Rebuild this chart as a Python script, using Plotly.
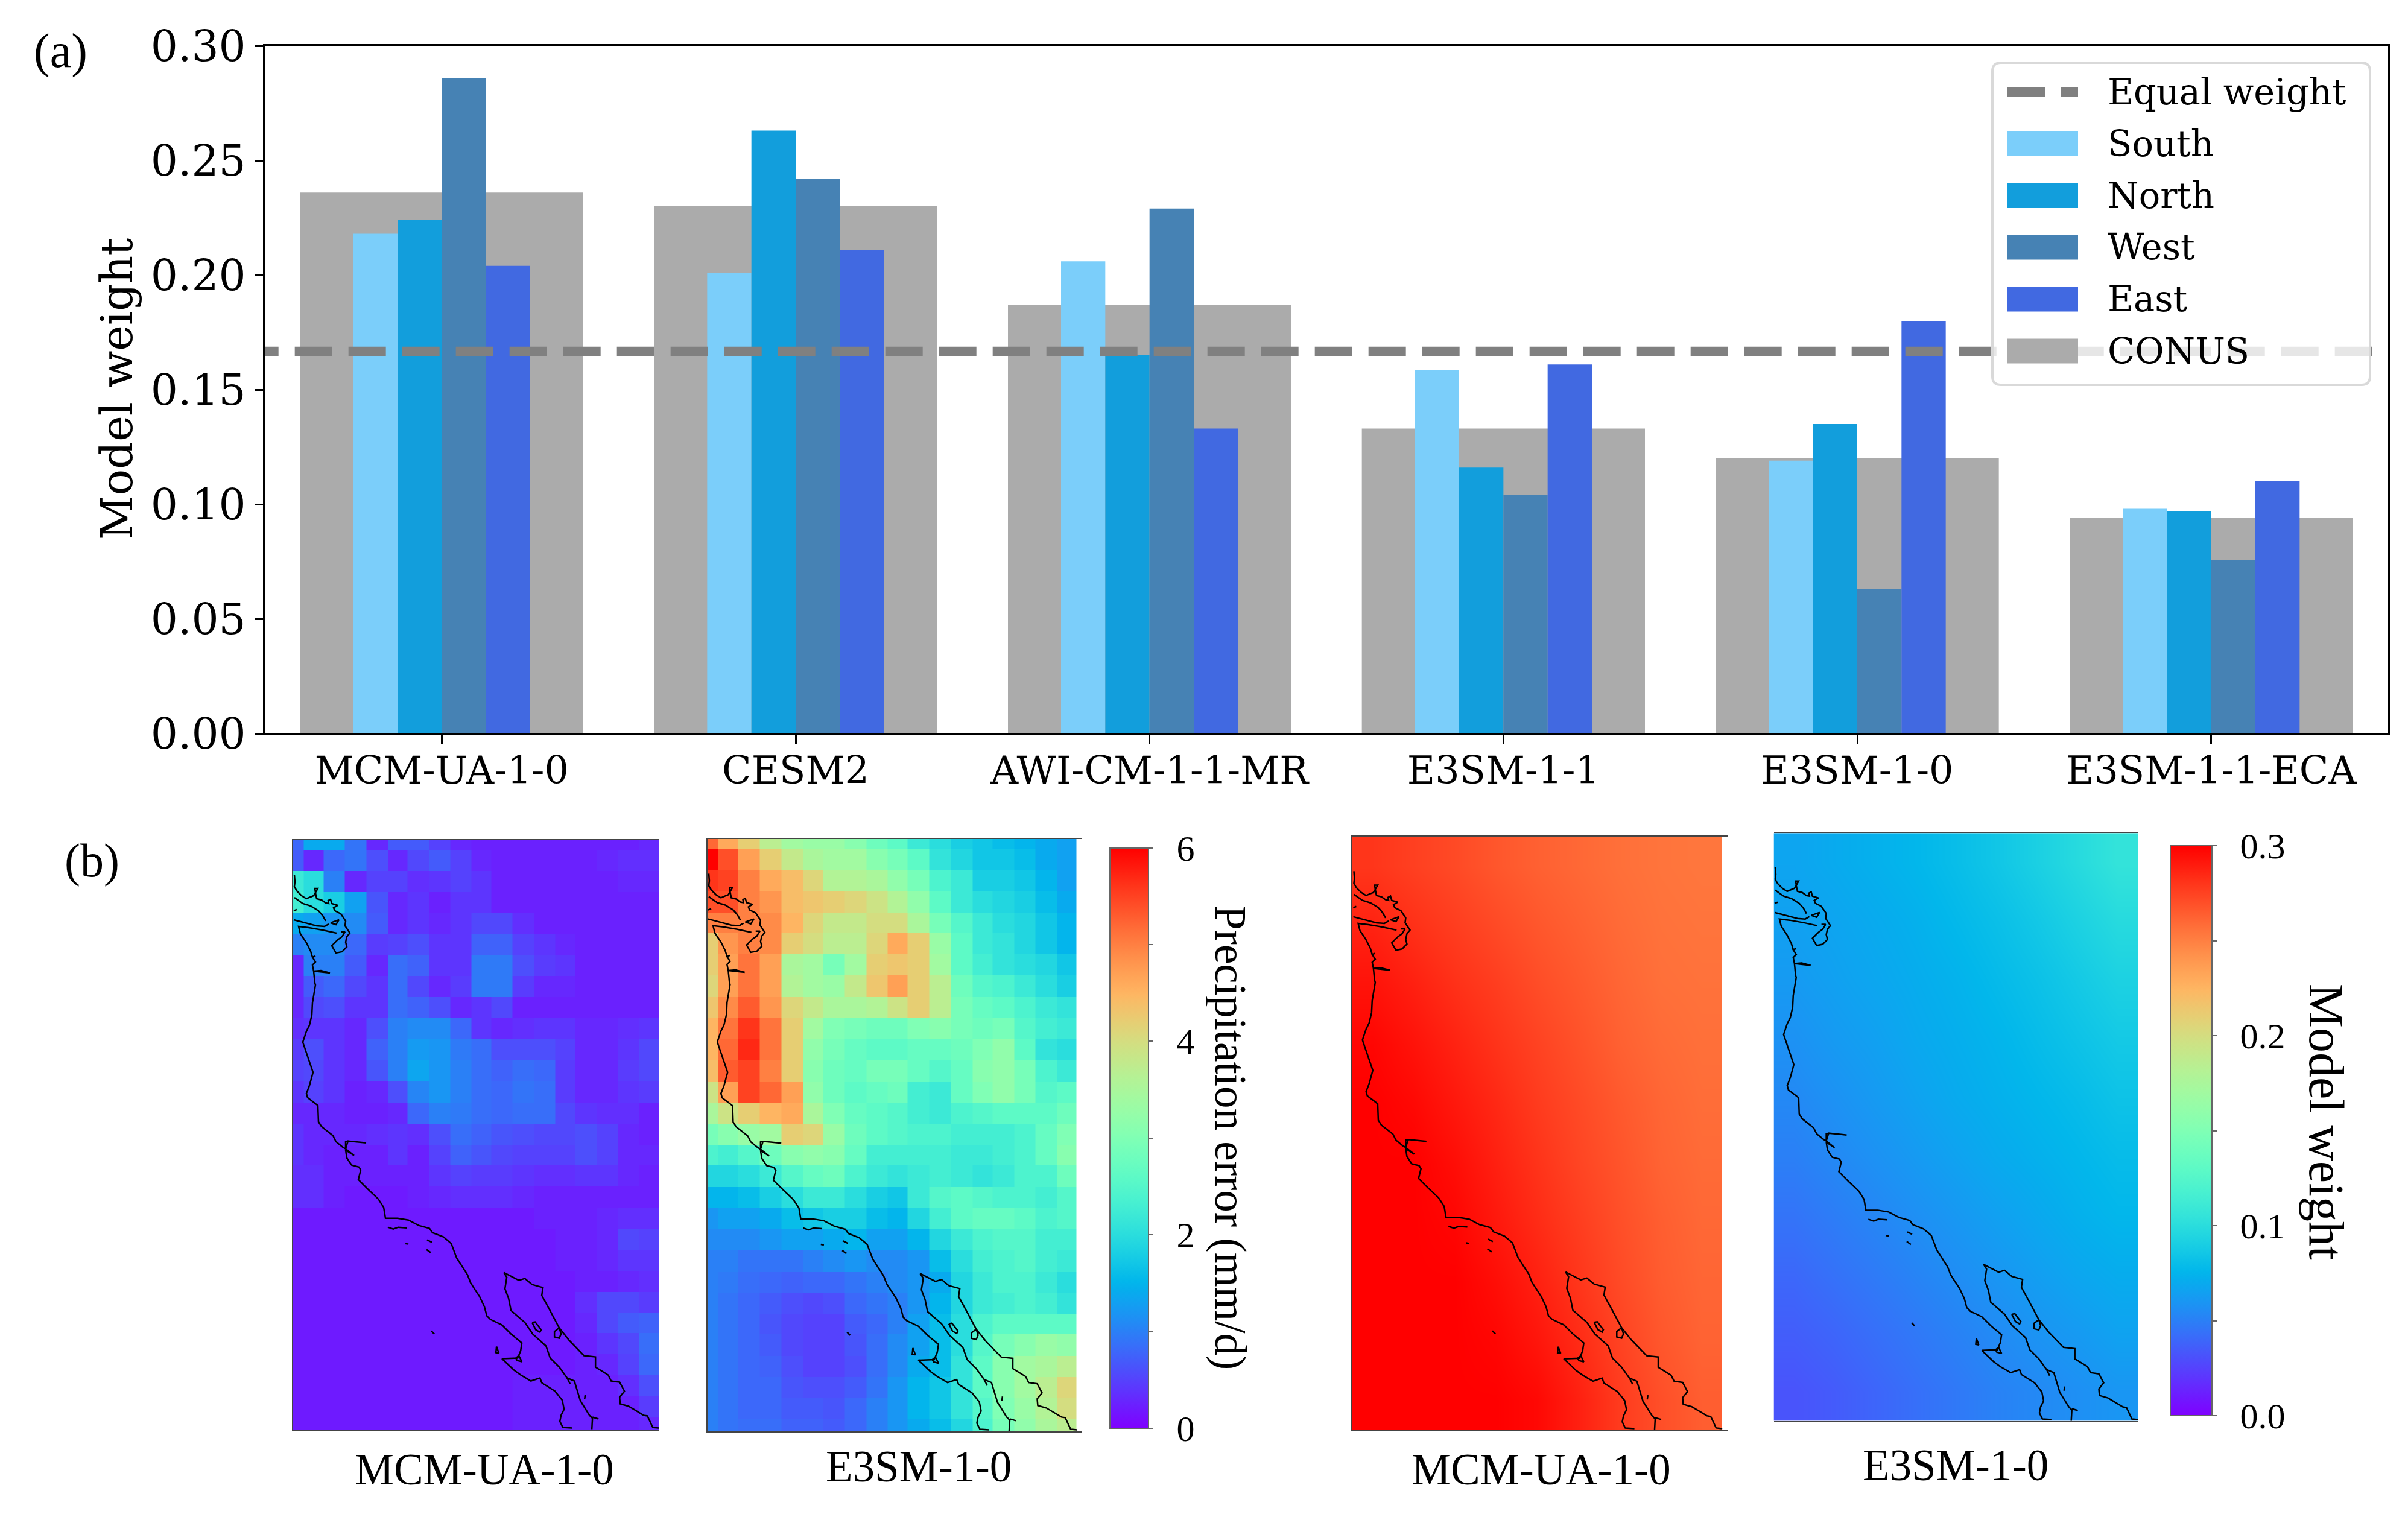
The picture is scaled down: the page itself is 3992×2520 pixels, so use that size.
import numpy as np
import plotly.graph_objects as go

WIDTH = 3992
HEIGHT = 2520

# Panel (a) values
models = ['MCM-UA-1-0', 'CESM2', 'AWI-CM-1-1-MR', 'E3SM-1-1', 'E3SM-1-0', 'E3SM-1-1-ECA']
conus = [0.236, 0.230, 0.187, 0.133, 0.120, 0.094]
south = [0.218, 0.201, 0.206, 0.1585, 0.119, 0.098]
north = [0.224, 0.263, 0.165, 0.116, 0.135, 0.097]
west = [0.286, 0.242, 0.229, 0.104, 0.063, 0.0755]
east = [0.204, 0.211, 0.133, 0.161, 0.180, 0.110]
equal_weight = 1 / 6
y_ticks = [0.00, 0.05, 0.10, 0.15, 0.20, 0.25, 0.30]

region_names = ['South', 'North', 'West', 'East']
region_colors = ['#7BCEFA', '#129EDC', '#4682B4', '#4169E1']
region_offsets = [-0.1875, -0.0625, 0.0625, 0.1875]

# Panel (b) grid edges, in the map units shared by all four maps
cell_x = [102, 142, 216, 295, 375, 455, 527, 607, 687, 765, 838, 917, 997, 1077, 1150, 1230, 1308, 1388, 1460]
cell_y = [47, 70, 120, 170, 220, 268, 318, 368, 418, 468, 518, 568, 618, 668, 718, 768, 815, 865, 915, 965,
          1015, 1065, 1115, 1165, 1212, 1262, 1312, 1362, 1412, 1440]

# Precipitation error, MCM-UA-1-0 (mm/d)
error_mcm = [
    [.8, 1.4, 1.4, .9, .3, .7, .7, .5, .3, .25, .25, .25, .25, .25, .25, .25, .25, .3],
    [.7, .3, .8, .9, .6, .3, .55, .7, .5, .3, .25, .25, .25, .25, .25, .3, .35, .35],
    [2.2, 2.0, 1.0, .3, .5, .5, .35, .4, .5, .4, .25, .25, .25, .25, .25, .25, .3, .3],
    [2.3, 2.0, 1.8, 1.3, .65, .3, .4, .25, .4, .4, .25, .25, .25, .25, .25, .25, .25, .25],
    [1.4, 1.3, 1.2, 1.1, .7, .3, .4, .3, .4, .55, .55, .35, .25, .25, .25, .25, .25, .25],
    [1.0, 1.1, 1.1, .8, .45, .5, .6, .4, .4, .75, .75, .5, .4, .3, .25, .25, .25, .25],
    [.3, 1.0, 1.0, .7, .3, .85, .75, .4, .4, .95, .95, .6, .45, .4, .25, .25, .25, .25],
    [.3, .7, .8, .55, .4, .85, .55, .3, .45, .95, .95, .45, .3, .3, .25, .25, .25, .25],
    [.3, .55, .6, .4, .4, .85, .75, .6, .3, .4, .55, .25, .25, .25, .25, .25, .25, .25],
    [.35, .4, .4, .3, .6, 1.0, 1.1, 1.1, .8, .4, .3, .35, .4, .4, .3, .3, .35, .4],
    [.45, .6, .4, .3, .75, 1.0, 1.25, 1.2, .95, .85, .6, .6, .6, .5, .3, .3, .4, .55],
    [.5, .55, .4, .3, .65, 1.0, 1.35, 1.2, 1.0, .85, .75, .85, .8, .45, .3, .3, .45, .55],
    [.4, .5, .4, .25, .3, .6, 1.05, 1.2, 1.0, .85, .8, .9, .85, .45, .3, .3, .4, .45],
    [.3, .3, .3, .25, .25, .3, .8, 1.0, .95, .85, .8, .85, .85, .55, .4, .35, .35, .25],
    [.4, .3, .3, .3, .35, .4, .35, .6, .85, .75, .65, .6, .55, .55, .6, .5, .3, .25],
    [.4, .3, .25, .25, .25, .4, .25, .5, .75, .65, .55, .5, .5, .5, .6, .5, .3, .3],
    [.35, .35, .25, .25, .25, .25, .25, .4, .5, .45, .45, .4, .35, .35, .4, .4, .3, .25],
    [.35, .35, .25, .2, .2, .2, .25, .3, .35, .35, .35, .3, .25, .25, .25, .25, .25, .25],
    [.2, .2, .2, .2, .2, .2, .2, .2, .2, .2, .2, .2, .25, .25, .25, .3, .35, .35],
    [.2, .2, .2, .2, .2, .2, .2, .2, .2, .2, .2, .2, .2, .25, .25, .3, .55, .5],
    [.2, .2, .2, .2, .2, .2, .2, .2, .2, .2, .2, .2, .2, .25, .25, .3, .4, .4],
    [.2, .2, .2, .2, .2, .2, .2, .2, .2, .2, .2, .2, .2, .2, .25, .25, .3, .35],
    [.2, .2, .2, .2, .2, .2, .2, .2, .2, .2, .2, .2, .2, .2, .35, .55, .55, .45],
    [.2, .2, .2, .2, .2, .2, .2, .2, .2, .2, .2, .2, .2, .2, .3, .55, .7, .75],
    [.2, .2, .2, .2, .2, .2, .2, .2, .2, .2, .2, .2, .2, .2, .25, .4, .55, .85],
    [.2, .2, .2, .2, .2, .2, .2, .2, .2, .2, .2, .2, .2, .2, .25, .3, .5, .8],
    [.2, .2, .2, .2, .2, .2, .2, .2, .2, .2, .2, .25, .25, .25, .25, .25, .35, .6],
    [.2, .2, .2, .2, .2, .2, .2, .2, .2, .2, .2, .25, .25, .25, .25, .25, .25, .45],
    [.2, .2, .2, .2, .2, .2, .2, .2, .2, .2, .2, .25, .25, .25, .25, .25, .25, .3],
]

# Precipitation error, E3SM-1-0 (mm/d)
error_e3sm = [
    [5.2, 4.6, 4.2, 3.7, 3.4, 3.3, 3.3, 3.1, 2.8, 2.6, 2.2, 2.0, 1.8, 1.7, 1.6, 1.5, 1.4, 1.3],
    [6.0, 5.4, 4.7, 4.2, 3.8, 3.5, 3.4, 3.4, 3.1, 2.9, 2.6, 2.1, 1.9, 1.7, 1.7, 1.6, 1.4, 1.3],
    [5.6, 5.5, 5.0, 4.6, 4.4, 4.1, 3.6, 3.6, 3.5, 3.2, 2.9, 2.4, 2.2, 1.8, 1.8, 1.7, 1.5, 1.3],
    [5.4, 5.4, 5.0, 4.8, 4.4, 4.3, 4.2, 4.1, 3.9, 3.6, 3.2, 2.6, 2.2, 2.0, 1.9, 1.8, 1.6, 1.4],
    [5.0, 5.0, 5.0, 4.9, 4.5, 4.1, 3.8, 3.8, 4.0, 4.0, 3.5, 2.9, 2.5, 2.2, 2.0, 1.9, 1.7, 1.5],
    [4.2, 4.8, 5.0, 4.9, 4.2, 4.0, 3.7, 3.7, 4.1, 4.6, 4.2, 3.3, 2.6, 2.2, 2.1, 1.9, 1.7, 1.5],
    [4.2, 4.7, 5.1, 4.7, 3.5, 3.4, 2.9, 3.4, 4.2, 4.3, 4.2, 3.4, 2.6, 2.3, 2.1, 2.0, 1.9, 1.7],
    [4.1, 4.7, 5.1, 4.7, 3.6, 3.4, 3.3, 3.8, 4.3, 4.7, 4.2, 3.7, 2.8, 2.5, 2.4, 2.2, 2.0, 1.8],
    [4.3, 4.9, 5.3, 4.8, 4.1, 3.8, 3.5, 3.5, 3.6, 3.9, 4.2, 3.7, 2.9, 2.7, 2.6, 2.4, 2.2, 2.1],
    [4.5, 5.1, 5.6, 5.1, 4.2, 3.4, 3.0, 2.9, 2.8, 2.8, 3.0, 3.1, 2.9, 2.8, 2.9, 2.5, 2.3, 2.2],
    [4.5, 5.2, 5.7, 5.1, 4.2, 3.2, 2.9, 2.7, 2.6, 2.6, 2.7, 2.7, 2.8, 3.0, 3.2, 2.6, 2.1, 2.0],
    [4.4, 5.3, 5.5, 5.0, 4.2, 3.1, 2.8, 2.7, 2.9, 2.9, 2.7, 2.5, 2.7, 3.1, 3.2, 2.9, 2.4, 2.2],
    [3.9, 4.7, 5.5, 5.2, 4.7, 3.2, 2.8, 2.6, 2.7, 2.8, 2.3, 2.2, 2.7, 3.0, 3.2, 2.9, 2.5, 2.6],
    [3.5, 3.9, 4.2, 4.5, 4.6, 3.5, 3.0, 2.7, 2.6, 2.5, 2.3, 2.2, 2.4, 2.5, 2.6, 2.6, 2.6, 2.8],
    [2.9, 3.1, 3.3, 3.4, 4.2, 4.1, 3.3, 2.8, 2.6, 2.5, 2.4, 2.4, 2.3, 2.3, 2.3, 2.4, 2.7, 3.0],
    [2.4, 2.3, 2.5, 2.8, 3.1, 3.2, 3.1, 2.7, 2.3, 2.3, 2.3, 2.3, 2.2, 2.2, 2.3, 2.4, 2.7, 3.1],
    [1.9, 1.9, 2.0, 2.2, 2.5, 2.7, 2.8, 2.4, 2.2, 2.1, 2.2, 2.3, 2.2, 2.1, 2.2, 2.4, 2.4, 2.8],
    [1.5, 1.5, 1.6, 1.8, 2.0, 2.2, 2.2, 2.0, 1.8, 1.7, 2.2, 2.5, 2.6, 2.5, 2.4, 2.4, 2.3, 2.5],
    [1.2, 1.3, 1.3, 1.4, 1.6, 1.7, 1.8, 1.8, 1.6, 1.5, 1.9, 2.3, 2.6, 2.7, 2.7, 2.6, 2.4, 2.5],
    [1.1, 1.1, 1.1, 1.2, 1.3, 1.3, 1.4, 1.5, 1.3, 1.3, 1.5, 1.9, 2.2, 2.4, 2.5, 2.5, 2.3, 2.3],
    [1.0, 1.0, .9, .9, .9, 1.0, 1.1, 1.2, 1.1, 1.1, 1.2, 1.6, 2.0, 2.3, 2.4, 2.5, 2.3, 2.2],
    [1.0, .95, .85, .8, .75, .8, .8, .9, 1.0, 1.1, 1.2, 1.4, 1.9, 2.2, 2.4, 2.4, 2.2, 2.0],
    [1.0, .9, .8, .7, .6, .55, .6, .8, .9, 1.0, 1.2, 1.5, 1.9, 2.2, 2.3, 2.4, 2.3, 2.1],
    [1.0, .9, .8, .65, .55, .5, .5, .7, .8, 1.0, 1.3, 1.6, 2.0, 2.4, 2.6, 2.6, 2.6, 2.6],
    [1.0, .9, .8, .7, .55, .5, .5, .65, .85, 1.1, 1.3, 1.6, 2.0, 2.5, 2.9, 3.1, 3.3, 3.2],
    [1.0, .9, .8, .75, .6, .5, .5, .6, .85, 1.1, 1.4, 1.6, 2.1, 2.6, 3.1, 3.4, 3.5, 3.7],
    [1.0, .9, .8, .8, .65, .6, .6, .7, .9, 1.2, 1.5, 1.7, 2.1, 2.6, 3.1, 3.4, 3.7, 4.1],
    [1.0, .9, .8, .8, .7, .7, .65, .8, 1.0, 1.2, 1.5, 1.7, 2.1, 2.5, 3.0, 3.3, 3.6, 4.0],
    [1.0, .9, .85, .85, .75, .75, .7, .8, 1.0, 1.2, 1.4, 1.6, 1.9, 2.4, 2.9, 3.2, 3.5, 3.7],
]

# Model weight fields, read on a coarser grid because they are smooth (cell centres)
weight_x = [177, 328, 479, 630, 781, 932, 1083, 1234, 1385]
weight_y = [117, 256, 395, 534, 674, 813, 952, 1092, 1231, 1370]

weight_mcm = [
    [.280, .276, .272, .267, .263, .260, .257, .255, .254],
    [.287, .282, .277, .272, .267, .263, .259, .256, .255],
    [.293, .288, .282, .277, .271, .266, .261, .257, .256],
    [.298, .293, .287, .281, .275, .269, .263, .259, .257],
    [.300, .297, .291, .285, .278, .272, .266, .261, .258],
    [.300, .300, .295, .288, .281, .274, .268, .262, .259],
    [.300, .300, .298, .291, .284, .277, .270, .264, .260],
    [.300, .300, .300, .295, .288, .280, .272, .265, .261],
    [.300, .300, .300, .298, .292, .284, .275, .267, .262],
    [.300, .300, .300, .300, .297, .288, .278, .270, .264],
]

weight_e3sm = [
    [.067, .070, .073, .076, .080, .085, .091, .098, .105],
    [.065, .067, .070, .073, .077, .081, .086, .092, .098],
    [.062, .065, .068, .071, .074, .078, .082, .087, .092],
    [.058, .062, .065, .069, .072, .075, .079, .083, .087],
    [.054, .058, .062, .066, .070, .073, .076, .079, .083],
    [.050, .054, .058, .062, .066, .070, .073, .076, .079],
    [.045, .049, .053, .057, .061, .065, .069, .073, .076],
    [.040, .044, .048, .052, .056, .060, .064, .068, .071],
    [.036, .039, .043, .047, .051, .055, .059, .062, .066],
    [.032, .035, .039, .043, .047, .051, .054, .057, .060],
]

coast_px = [488, 489, 488, 492, 500, 508, 515, 520, 523, 522, 527, 523, 525, 533, 540, 545, 544, 548, 550, 560, 553, 555, 565, 568, 573, 572, 580, 575, 573, 575, 567, 557, 553, 550, 560, 567, 572, 565, None,
            488, 502, 515, 528, 535, 540, None,
            548, 557, 562, 557, 548, None,
            487, 505, 525, 538, 545, None,
            487, 492, None,
            558, 535, 512, 495, 498, 508, 515, 518, 523, 518, 523, 518, 520, 532, 547, 520, 522, 523, 518, 517, 513, 508, 502, 507, 513, 519, 513, 508, 510, 527, 528, 533, 552, 557, 568, 573, 573, 577, 607, 577, 573, 587, 573, 575, 583, 595, 598,
            594, 610, 627, 636, 639, 659, 677, 694, 712, 717, 735, 748, 757, 775, 780, 787, 795, 803, 807, 813, 832, 847, 865, 863, 858, 832, 852, 863, 880, 895, 898, 920, 932, 935, 930, 928, 933, 948, None,
            855, 860, 865, 857, 855, None,
            835, 840, 837, 843, 847, 870, 883, 905, 912, 927, 940, 952, 962, 977, 982, 981, None,
            940, 945, None,
            970, 969, None,
            982, 992, None,
            835, 860, 870, 882, 900, 898, 910, 927, 943, 968, 987, 987, 1008, 1013, 1027, 1035, 1027, 1028, 1042, 1067, 1073, 1082, 1092, None,
            882, 887, 897, 895, 888, 882, None,
            927, 919, 919, 927, 930, 927, None,
            823, 822, 827, 823, None,
            643, 652, 660, 674, None,
            672, 677, None,
            708, 716, None,
            707, 714, None,
            715, 720]
coast_py = [1450, 1462, 1470, 1477, 1485, 1490, 1487, 1485, 1480, 1473, 1473, 1480, 1490, 1492, 1497, 1498, 1493, 1491, 1498, 1501, 1505, 1510, 1515, 1520, 1527, 1535, 1547, 1553, 1562, 1570, 1578, 1580, 1573, 1568, 1558, 1553, 1545, 1545, None,
            1488, 1498, 1502, 1510, 1518, 1527, None,
            1530, 1527, 1525, 1533, 1530, None,
            1525, 1530, 1535, 1536, 1532, None,
            1510, 1508, None,
            1547, 1542, 1538, 1536, 1548, 1563, 1577, 1587, 1585, 1587, 1595, 1600, 1610, 1609, 1613, 1610, 1630, 1633, 1663, 1683, 1700, 1710, 1728, 1743, 1760, 1778, 1800, 1813, 1820, 1833, 1860, 1868, 1883, 1893, 1902, 1905, 1893, 1892, 1895, 1892, 1905, 1916, 1907, 1920, 1932, 1935, 1940,
            1956, 1972, 1988, 2002, 2020, 2020, 2023, 2032, 2037, 2044, 2051, 2062, 2086, 2114, 2127, 2138, 2150, 2167, 2182, 2188, 2197, 2212, 2227, 2240, 2252, 2253, 2272, 2280, 2290, 2285, 2293, 2307, 2322, 2337, 2347, 2357, 2367, 2368, None,
            2252, 2248, 2258, 2256, 2252, None,
            2110, 2118, 2137, 2153, 2173, 2193, 2212, 2232, 2252, 2267, 2285, 2290, 2323, 2347, 2352, 2370, None,
            2285, 2295, None,
            2313, 2320, None,
            2350, 2353, None,
            2110, 2123, 2120, 2130, 2135, 2148, 2170, 2202, 2222, 2248, 2250, 2267, 2280, 2290, 2292, 2307, 2317, 2328, 2332, 2347, 2348, 2367, 2368, None,
            2193, 2192, 2205, 2209, 2205, 2193, None,
            2202, 2208, 2217, 2219, 2212, 2202, None,
            2233, 2243, 2244, 2233, None,
            2035, 2038, 2035, 2036, None,
            2062, 2063, None,
            2056, 2060, None,
            2072, 2077, None,
            2207, 2212]

legend_labels = ['Equal weight'] + region_names + ['CONUS']

# Picture positions to map units
coast_x = [None if v is None else (v - 440) * 2.24 for v in coast_px]
coast_y = [None if v is None else (v - 1360) * 1.425 for v in coast_py]

SERIF = 'Liberation Serif'
DEJAVU = 'DejaVu Serif'


def paper_x(px: float) -> float:
    return px / WIDTH


def paper_y(py: float) -> float:
    return 1 - py / HEIGHT


def rainbow_scale(num_stops: int = 64) -> list:
    '''
    Returns the matplotlib rainbow colormap as a plotly colorscale.
    '''
    stops = []
    for frac in np.linspace(0, 1, num_stops):
        red = abs(2 * frac - 0.5)
        green = np.sin(np.pi * frac)
        blue = np.cos(np.pi * frac / 2)
        stops.append([float(frac), f'rgb({red * 255:.0f},{green * 255:.0f},{blue * 255:.0f})'])
    return stops


def colorbar_dict(left, top, bottom, thickness, tickvals, ticktext) -> dict:
    return {'x': paper_x(left), 'xanchor': 'left', 'xpad': 0,
            'y': paper_y(top), 'yanchor': 'top', 'ypad': 0,
            'thickness': thickness, 'thicknessmode': 'pixels',
            'len': bottom - top, 'lenmode': 'pixels',
            'outlinewidth': 2, 'outlinecolor': '#666666',
            'ticks': 'outside', 'ticklen': 7, 'tickwidth': 2, 'tickcolor': '#666666',
            'tickmode': 'array', 'tickvals': tickvals,
            'ticktext': ['\u00a0\u2009' + label for label in ticktext],
            'tickfont': {'family': SERIF, 'size': 60, 'color': 'black'}}


scale = rainbow_scale()
fig = go.Figure()

# Panel (a): CONUS bars go underneath the regional ones
positions = np.arange(len(models))
fig.add_trace(go.Bar(x = positions, y = conus, width = 0.8, name = 'CONUS',
                     marker = {'color': '#ABABAB', 'line': {'width': 0}}, showlegend = False))
for region_values, name, color, offset in zip([south, north, west, east], region_names, region_colors, region_offsets):
    fig.add_trace(go.Bar(x = positions + offset, y = region_values, width = 0.125, name = name,
                         marker = {'color': color, 'line': {'width': 0}}, showlegend = False))
fig.add_trace(go.Scatter(x = [-0.567, 5.47], y = [equal_weight, equal_weight], mode = 'lines',
                         name = 'Equal weight', showlegend = False,
                         line = {'color': '#808080', 'width': 16, 'dash': '62px,27px'}))

# Panel (b): the four maps
map_boxes = [(485.5, 1092, 1393, 2370, 0),
             (1172.5, 1793, 1391, 2373, 18),
             (2242, 2864, 1387, 2371, 20),
             (2940.5, 3544, 1381, 2356, 0)]
map_fields = [(error_mcm, cell_x, cell_y, 6), (error_e3sm, cell_x, cell_y, 6),
              (weight_mcm, weight_x, weight_y, 0.3), (weight_e3sm, weight_x, weight_y, 0.3)]
map_titles = [('MCM-UA-1-0', 803, 2436, 73), ('E3SM-1-0', 1523, 2431, 73),
              ('MCM-UA-1-0', 2555, 2436, 73), ('E3SM-1-0', 3242, 2429, 73)]
colorbars = [None,
             colorbar_dict(1840, 1405.6, 2368, 64, [0, 1, 2, 3, 4, 5, 6], ['0', '', '2', '', '4', '', '6']),
             None,
             colorbar_dict(3598, 1402, 2347, 69, [0, 0.05, 0.1, 0.15, 0.2, 0.25, 0.3],
                           ['0.0', '', '0.1', '', '0.2', '', '0.3'])]

layout_axes = {}
for idx, (box, field, colorbar) in enumerate(zip(map_boxes, map_fields, colorbars)):
    left, right, top, bottom, spare = box
    z, field_x, field_y, zmax = field
    xname = f'x{idx + 2}'
    yname = f'y{idx + 2}'
    heat = {'z': z, 'x': field_x, 'y': field_y, 'xaxis': xname, 'yaxis': yname,
            'zmin': 0, 'zmax': zmax, 'colorscale': scale, 'showscale': colorbar is not None}
    if colorbar is not None:
        heat['colorbar'] = colorbar
    if zmax < 1:
        heat['zsmooth'] = 'best'
    fig.add_trace(go.Heatmap(**heat))
    fig.add_trace(go.Scatter(x = coast_x, y = coast_y, xaxis = xname, yaxis = yname, mode = 'lines',
                             line = {'color': 'black', 'width': 2.5}, connectgaps = False,
                             hoverinfo = 'skip', showlegend = False))
    layout_axes[f'xaxis{idx + 2}'] = {'domain': [paper_x(left), paper_x(right)], 'anchor': yname,
                                      'range': [102, 1460 + spare], 'showticklabels': False, 'ticks': '',
                                      'showgrid': False, 'zeroline': False,
                                      'showline': True, 'mirror': True, 'linecolor': '#444444', 'linewidth': 2}
    layout_axes[f'yaxis{idx + 2}'] = {'domain': [paper_y(bottom), paper_y(top)], 'anchor': xname,
                                      'range': [1440, 47], 'showticklabels': False, 'ticks': '',
                                      'showgrid': False, 'zeroline': False,
                                      'showline': idx != 3, 'linecolor': '#444444', 'linewidth': 2}

# Free text: panel letters, axis and colorbar titles, map captions
annotations = [
    {'text': '(a)', 'x': paper_x(100), 'y': paper_y(85), 'font': {'family': SERIF, 'size': 80}},
    {'text': '(b)', 'x': paper_x(152), 'y': paper_y(1426), 'font': {'family': SERIF, 'size': 78}},
    {'text': 'Model weight', 'x': paper_x(194), 'y': paper_y(645), 'textangle': -90,
     'font': {'family': DEJAVU, 'size': 72}},
    {'text': 'Precipitation error (mm/d)', 'x': paper_x(2040), 'y': paper_y(1886), 'textangle': 90,
     'font': {'family': SERIF, 'size': 73}},
    {'text': 'Model weight', 'x': paper_x(3857), 'y': paper_y(1860), 'textangle': 90,
     'font': {'family': SERIF, 'size': 82}},
]
for text, cx, cy, size in map_titles:
    annotations.append({'text': text, 'x': paper_x(cx), 'y': paper_y(cy), 'font': {'family': SERIF, 'size': size}})

# Legend box, drawn by hand so the swatches keep their size
legend_rows = [152, 238, 324.5, 410, 496, 582]
swatch_colors = [None] + region_colors + ['#ABABAB']
bx0, bx1, by0, by1 = paper_x(3303), paper_x(3929), paper_y(104), paper_y(638)
rx, ry = 14 / WIDTH, 14 / HEIGHT
shapes = [{'type': 'path', 'xref': 'paper', 'yref': 'paper', 'layer': 'above',
           'path': f'M {bx0 + rx} {by0} L {bx1 - rx} {by0} Q {bx1} {by0} {bx1} {by0 - ry} '
                   f'L {bx1} {by1 + ry} Q {bx1} {by1} {bx1 - rx} {by1} '
                   f'L {bx0 + rx} {by1} Q {bx0} {by1} {bx0} {by1 + ry} '
                   f'L {bx0} {by0 - ry} Q {bx0} {by0} {bx0 + rx} {by0} Z',
           'fillcolor': 'rgba(255,255,255,0.8)', 'line': {'color': '#D9D9D9', 'width': 4}}]
for row, color, label in zip(legend_rows, swatch_colors, legend_labels):
    if color is None:
        shapes.append({'type': 'line', 'xref': 'paper', 'yref': 'paper', 'layer': 'above',
                       'x0': paper_x(3327), 'x1': paper_x(3445), 'y0': paper_y(row), 'y1': paper_y(row),
                       'line': {'color': '#808080', 'width': 16, 'dash': '63px,27px'}})
    else:
        shapes.append({'type': 'rect', 'xref': 'paper', 'yref': 'paper', 'layer': 'above',
                       'x0': paper_x(3327), 'x1': paper_x(3445),
                       'y0': paper_y(row - 20.5), 'y1': paper_y(row + 20.5),
                       'fillcolor': color, 'line': {'width': 0}})
    annotations.append({'text': label, 'x': paper_x(3492), 'y': paper_y(row), 'xanchor': 'left',
                        'font': {'family': DEJAVU, 'size': 59}})

for note in annotations:
    note.setdefault('xref', 'paper')
    note.setdefault('yref', 'paper')
    note.setdefault('showarrow', False)
    note.setdefault('xanchor', 'center')
    note.setdefault('yanchor', 'middle')
    note['font'].setdefault('color', 'black')

fig.update_layout(width = WIDTH, height = HEIGHT,
                  margin = {'l': 0, 'r': 0, 't': 0, 'b': 0, 'autoexpand': False},
                  paper_bgcolor = 'white', plot_bgcolor = 'white',
                  barmode = 'overlay', showlegend = False,
                  xaxis = {'domain': [paper_x(439), paper_x(3959)], 'range': [-0.5, 5.5], 'anchor': 'y',
                           'tickmode': 'array', 'tickvals': positions, 'ticktext': models,
                           'tickfont': {'family': DEJAVU, 'size': 63.5, 'color': 'black'},
                           'ticklabelstandoff': -10,
                           'ticks': 'outside', 'ticklen': 14, 'tickwidth': 3, 'tickcolor': 'black',
                           'showgrid': False, 'zeroline': False,
                           'showline': True, 'mirror': True, 'linecolor': 'black', 'linewidth': 3},
                  yaxis = {'domain': [paper_y(1216), paper_y(76)], 'range': [0, 0.30], 'anchor': 'x',
                           'tickmode': 'array', 'tickvals': y_ticks, 'ticktext': [f'{v:.2f}' for v in y_ticks],
                           'tickfont': {'family': DEJAVU, 'size': 71, 'color': 'black'},
                           'ticks': 'outside', 'ticklen': 14, 'tickwidth': 3, 'tickcolor': 'black',
                           'showgrid': False, 'zeroline': False,
                           'showline': True, 'mirror': True, 'linecolor': 'black', 'linewidth': 3},
                  annotations = annotations, shapes = shapes, **layout_axes)

fig.write_html("out.html", config = {'displayModeBar': False},
               post_script = "document.body.style.margin = '0';")
